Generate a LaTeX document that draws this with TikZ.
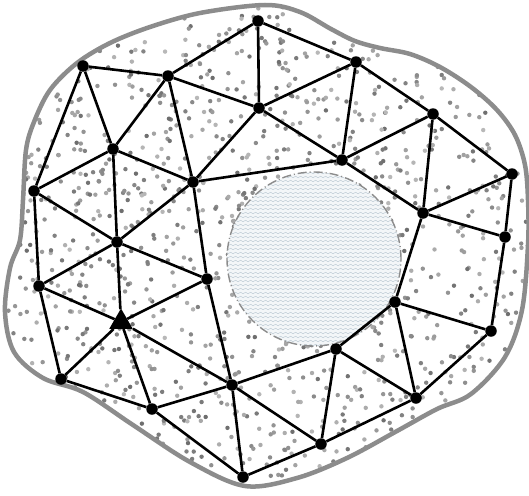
\documentclass[tikz,border=0pt]{standalone}
\usetikzlibrary{decorations.pathmorphing,shapes.geometric}
\definecolor{rim}{RGB}{140,140,140}
\definecolor{lakefill}{RGB}{243,246,248}
\definecolor{wave}{RGB}{186,200,210}
\begin{document}
\begin{tikzpicture}[x=1pt,y=-1pt,
  vtx/.style={circle,fill=black,inner sep=0pt,minimum size=11.5pt},
  trinode/.style={regular polygon,regular polygon sides=3,fill=black,inner sep=0pt,minimum size=27pt},
  link/.style={line width=2.6pt,black}]
\useasboundingbox (0,0) rectangle (529,495);
\def\blob{plot[smooth cycle,tension=0.55] coordinates{
 (265,5) (300,12) (331,29) (355,41) (380,48) (410,54) (440,67) (471,87) (497,110)
 (515,135) (525,165) (528,200) (528,245) (522,310) (505,357) (471,394) (437,409)
 (397,431) (347,458) (297,478) (245,486) (190,462) (133,425) (83,392) (43,378)
 (14,352) (5,312) (10,268) (20,240) (23,200) (26,150) (34,122) (50,90) (77,63)
 (110,43) (150,27) (200,13)}}
\begin{scope}
\clip \blob;
\fill[white] (0,0) rectangle (529,495);
\pgfmathsetseed{7}
\foreach \i in {1,...,1500}{
  \pgfmathsetmacro{\rx}{rnd*529}
  \pgfmathsetmacro{\ry}{rnd*495}
  \pgfmathtruncatemacro{\rg}{28+rnd*30}
  \fill[black!\rg] (\rx,\ry) circle (2.2pt);
}
\end{scope}
\draw[rim,line width=4.5pt] \blob;
% lake
\fill[lakefill] (314,259) circle (87pt);
\begin{scope}
\clip (314,259) circle (87pt);
\foreach \yy in {173,177,...,347}{
  \draw[wave,line width=0.4pt,decorate,decoration={snake,segment length=5pt,amplitude=0.8pt}] (224,\yy) -- (406,\yy);
}
\end{scope}
\draw[black!45,line width=1.4pt,dash pattern=on 9pt off 3pt on 1pt off 3pt] (314,259) circle (87pt);
% nodes
\node[vtx] (A) at (258,21) {};
\node[vtx] (B) at (83,66) {};
\node[vtx] (C) at (168,76) {};
\node[vtx] (D) at (259,108) {};
\node[vtx] (E) at (113,149) {};
\node[vtx] (F) at (193,182) {};
\node[vtx] (G) at (34,191) {};
\node[vtx] (H) at (117,242) {};
\node[vtx] (I) at (356,62) {};
\node[vtx] (J) at (433,114) {};
\node[vtx] (K) at (342,160) {};
\node[vtx] (L) at (512,174) {};
\node[vtx] (M) at (423,213) {};
\node[vtx] (N) at (505,237) {};
\node[vtx] (O) at (39,286) {};
\node[vtx] (P) at (207,279) {};
\node[trinode] (Q) at (121,322) {};
\node[vtx] (R) at (61,379) {};
\node[vtx] (S) at (152,409) {};
\node[vtx] (T) at (232,385) {};
\node[vtx] (U) at (243,477) {};
\node[vtx] (V) at (395,302) {};
\node[vtx] (W) at (491,331) {};
\node[vtx] (X) at (336,349) {};
\node[vtx] (Y) at (416,398) {};
\node[vtx] (Z) at (321,444) {};
% edges
\foreach \a/\b in {A/C,A/D,A/I,B/C,B/E,B/G,C/E,C/D,C/F,D/F,D/I,D/K,E/F,E/G,E/H,
  F/H,F/K,F/P,G/H,G/O,H/O,H/P,H/Q,I/J,I/K,J/K,J/L,J/M,K/M,L/M,L/N,M/N,M/V,N/W,
  V/W,V/X,V/Y,W/Y,X/Y,X/Z,Y/Z,T/X,T/Z,U/Z,O/Q,P/Q,O/R,Q/R,Q/S,Q/T,R/S,S/T,S/U,T/U,P/T}
  \draw[link] (\a) -- (\b);
\end{tikzpicture}
\end{document}
